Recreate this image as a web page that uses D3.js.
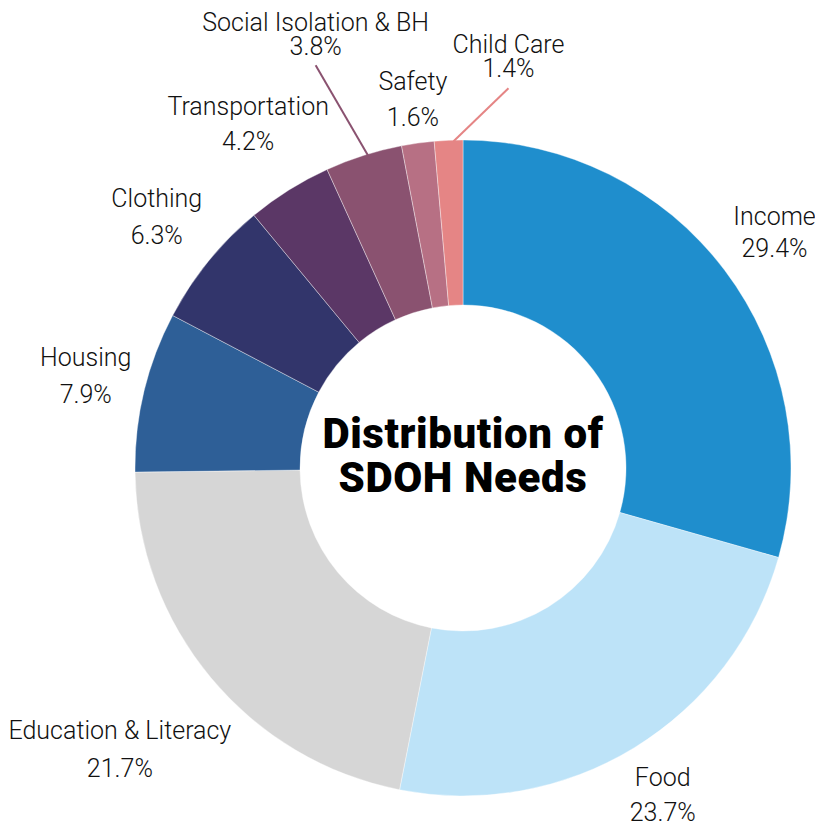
<!DOCTYPE html>
<html>
<head>
<meta charset="utf-8">
<script src="https://cdn.jsdelivr.net/npm/d3@7/dist/d3.min.js"></script>
<style>
  html, body { margin: 0; padding: 0; background: #fff; }
  svg { display: block; }
  .lbl { font-family: Roboto, "Noto Sans", sans-serif; font-weight: 300; font-size: 25px; fill: #111; }
  .title { font-family: Roboto, "Noto Sans", sans-serif; font-weight: 900; font-size: 42px; letter-spacing: 0.6px; fill: #000; }
</style>
</head>
<body>
<script>
// SDOH need categories, clockwise from 12 o'clock
const categories = ["Income", "Food", "Education & Literacy", "Housing", "Clothing",
  "Transportation", "Social Isolation & BH", "Safety", "Child Care"];
const shares = [29.4, 23.7, 21.7, 7.9, 6.3, 4.2, 3.8, 1.6, 1.4];
const colors = ["#1f8ecd", "#bde3f8", "#d6d6d6", "#2e5f97", "#32356b",
  "#5b3766", "#8a5270", "#b77084", "#e58585"];
const titleLines = ["Distribution of", "SDOH Needs"];

// label placement: radius along the slice's mid-angle, extra nudge, line gap,
// and for the thin slices a leader from the rim (shifted by sdx) to below the label
const labelLayout = {
  "Income":                { r: 388, dx: 2,   dy: -2,  gap: 32 },
  "Food":                  { r: 388, dx: -3,  dy: -4,  gap: 35 },
  "Education & Literacy":  { r: 440, dx: -5,  dy: -1,  gap: 38 },
  "Housing":               { r: 388, dx: 0,   dy: -2,  gap: 37 },
  "Clothing":              { r: 388, dx: -5,  dy: -7,  gap: 37 },
  "Transportation":        { r: 405, dx: 0,   dy: -1,  gap: 35 },
  "Social Isolation & BH": { r: 450, dx: -11, dy: -5,  gap: 24, leader: true, sdx: 5, tail: 31 },
  "Safety":                { r: 378, dx: 2,   dy: 5,   gap: 36 },
  "Child Care":            { r: 330, dx: 60,  dy: -82, gap: 24, leader: true, sdx: 5, tail: 32 }
};

const width = 815, height = 825;
const cx = 463, cy = 468, outerR = 328, innerR = 163;

const svg = d3.select("body").append("svg")
  .attr("width", width).attr("height", height);

const data = categories.map((c, i) => ({ name: c, value: shares[i], color: colors[i] }));

const pie = d3.pie().value(d => d.value).sort(null);
const arc = d3.arc().innerRadius(innerR).outerRadius(outerR);
const arcs = pie(data);

const g = svg.append("g").attr("transform", `translate(${cx},${cy})`);

g.selectAll("path.slice").data(arcs).join("path")
  .attr("class", "slice")
  .attr("d", arc)
  .attr("fill", d => d.data.color)
  .attr("stroke", "#ffffff")
  .attr("stroke-opacity", 0.55)
  .attr("stroke-width", 0.7);

const polar = (a, r) => [Math.sin(a) * r, -Math.cos(a) * r];

arcs.forEach(d => {
  const L = labelLayout[d.data.name];
  const mid = (d.startAngle + d.endAngle) / 2;
  const [px, py] = polar(mid, L.r);
  const x = px + L.dx, y = py + L.dy;

  if (L.leader) {
    const [sx, sy] = polar(mid, outerR);
    g.append("line")
      .attr("x1", sx + L.sdx).attr("y1", sy + 1)
      .attr("x2", x).attr("y2", y + L.tail)
      .attr("stroke", d.data.color).attr("stroke-width", 2);
  }

  const t = g.append("text").attr("class", "lbl")
    .attr("text-anchor", "middle")
    .attr("x", x).attr("y", y);
  t.append("tspan").attr("x", x).attr("dy", -L.gap / 2 + 9).text(d.data.name);
  t.append("tspan").attr("x", x).attr("dy", L.gap).text(d3.format(".1f")(d.data.value) + "%");
});

// centre title
const tt = g.append("text").attr("class", "title").attr("text-anchor", "middle");
titleLines.forEach((line, i) => {
  tt.append("tspan").attr("x", 0).attr("y", -20 + i * 44).text(line);
});
</script>
</body>
</html>
